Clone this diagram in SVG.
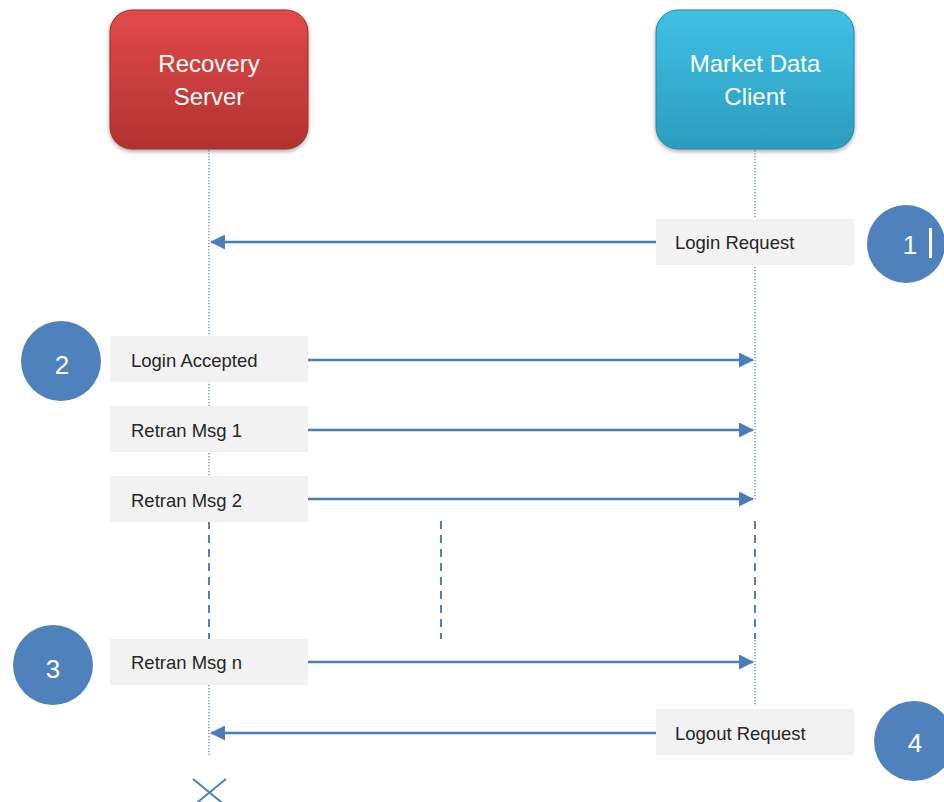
<svg xmlns="http://www.w3.org/2000/svg" width="944" height="802" viewBox="0 0 944 802">
<style>
.hdr{font-family:"Liberation Sans",Arial,sans-serif;font-size:24px;fill:#ffffff;text-anchor:middle}
.lbl{font-family:"Liberation Sans",Arial,sans-serif;font-size:18.5px;fill:#262626}
.lblbox{fill:#f2f2f2}
.num{font-family:"Liberation Sans",Arial,sans-serif;font-size:26px;fill:#ffffff;text-anchor:middle}
.circ{fill:#4f81bd}
.msg{stroke:#4a7ebb;stroke-width:2.5;fill:none}
.life{stroke:#4f81bd;stroke-width:1.2;stroke-dasharray:1.2 1.8;fill:none}
.dash{stroke:#4f81bd;stroke-width:2;stroke-dasharray:8 6;fill:none}
</style>
<defs>
<linearGradient id="gRed" x1="0" y1="0" x2="0" y2="1">
<stop offset="0" stop-color="#e24a4a"/>
<stop offset="1" stop-color="#b13232"/>
</linearGradient>
<linearGradient id="gBlue" x1="0" y1="0" x2="0" y2="1">
<stop offset="0" stop-color="#3fc1e4"/>
<stop offset="1" stop-color="#2b9cc0"/>
</linearGradient>
<filter id="sh" x="-10%" y="-10%" width="120%" height="130%">
<feDropShadow dx="0" dy="2" stdDeviation="2" flood-color="#000" flood-opacity="0.35"/>
</filter>
<marker id="arr" markerWidth="6" markerHeight="6" refX="5.6" refY="3" orient="auto" markerUnits="strokeWidth">
<path d="M0,0 L6,3 L0,6 Z" fill="#4a7ebb"/>
</marker>
</defs>

<g id="lifelines">
<line class="life" x1="209" y1="150" x2="209" y2="520"/>
<line class="dash" x1="209" y1="521" x2="209" y2="639"/>
<line class="life" x1="209" y1="640" x2="209" y2="755"/>
<line class="life" x1="755" y1="150" x2="755" y2="500"/>
<line class="dash" x1="755" y1="521" x2="755" y2="639"/>
<line class="life" x1="755" y1="640" x2="755" y2="706"/>
<line class="dash" x1="441" y1="521" x2="441" y2="639"/>
</g>

<g id="recovery-server">
<rect x="110" y="10" width="198" height="139" rx="22" fill="url(#gRed)" stroke="#9a2a2a" stroke-width="1" filter="url(#sh)"/>
<text class="hdr" x="209" y="72">Recovery</text>
<text class="hdr" x="209" y="105">Server</text>
</g>

<g id="market-data-client">
<rect x="656" y="10" width="198" height="139" rx="22" fill="url(#gBlue)" stroke="#23869f" stroke-width="1" filter="url(#sh)"/>
<text class="hdr" x="755" y="72">Market Data</text>
<text class="hdr" x="755" y="105">Client</text>
</g>

<g id="connectors">
<line class="msg" x1="656" y1="242" x2="211" y2="242" marker-end="url(#arr)"/>
<line class="msg" x1="308" y1="360" x2="753" y2="360" marker-end="url(#arr)"/>
<line class="msg" x1="308" y1="430" x2="753" y2="430" marker-end="url(#arr)"/>
<line class="msg" x1="308" y1="499" x2="753" y2="499" marker-end="url(#arr)"/>
<line class="msg" x1="308" y1="662" x2="753" y2="662" marker-end="url(#arr)"/>
<line class="msg" x1="656" y1="733" x2="211" y2="733" marker-end="url(#arr)"/>
</g>

<g id="login-request">
<rect class="lblbox" x="656" y="219" width="198" height="46"/>
<text class="lbl" x="675" y="249">Login Request</text>
</g>
<g id="login-accepted">
<rect class="lblbox" x="110" y="336" width="198" height="46"/>
<text class="lbl" x="131" y="367">Login Accepted</text>
</g>
<g id="retran-msg-1">
<rect class="lblbox" x="110" y="406" width="198" height="46"/>
<text class="lbl" x="131" y="437">Retran Msg 1</text>
</g>
<g id="retran-msg-2">
<rect class="lblbox" x="110" y="476" width="198" height="46"/>
<text class="lbl" x="131" y="507">Retran Msg 2</text>
</g>
<g id="retran-msg-n">
<rect class="lblbox" x="110" y="639" width="198" height="46"/>
<text class="lbl" x="131" y="669">Retran Msg n</text>
</g>
<g id="logout-request">
<rect class="lblbox" x="656" y="709" width="198" height="46"/>
<text class="lbl" x="675" y="740">Logout Request</text>
</g>

<g id="step-1">
<circle class="circ" cx="906" cy="244" r="39"/>
<text class="num" x="910" y="254">1</text>
<rect x="929" y="228" width="3" height="30" fill="#ffffff"/>
</g>
<g id="step-2">
<circle class="circ" cx="61" cy="361" r="40"/>
<text class="num" x="62" y="374">2</text>
</g>
<g id="step-3">
<circle class="circ" cx="53" cy="665" r="40"/>
<text class="num" x="53" y="678">3</text>
</g>
<g id="step-4">
<circle class="circ" cx="914" cy="741" r="40"/>
<text class="num" x="915" y="752">4</text>
</g>

<g id="destroy">
<line x1="193" y1="779" x2="226" y2="806" stroke="#4f81bd" stroke-width="2"/>
<line x1="226" y1="779" x2="193" y2="806" stroke="#4f81bd" stroke-width="2"/>
</g>
</svg>
